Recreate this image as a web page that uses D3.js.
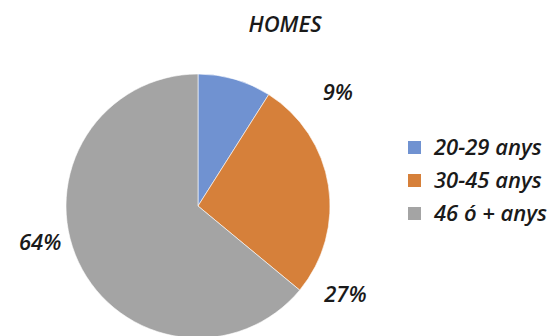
<!DOCTYPE html>
<html>
<head>
<meta charset="utf-8">
<script src="https://cdn.jsdelivr.net/npm/d3@7"></script>
<style>
  html, body { margin: 0; padding: 0; background: #fff; }
  svg text { font-family: "Open Sans", Lato, sans-serif; font-style: italic; fill: #1a1a1a; }
</style>
</head>
<body>
<svg id="chart" width="560" height="336"></svg>
<script>
// Data
const title = "HOMES";
const categories = ["20-29 anys", "30-45 anys", "46 ó + anys"];
const values = [9, 27, 64];
const colors = ["#7092d1", "#d6803a", "#a4a4a4"];

// Layout
const W = 560, H = 336;
const cx = 198, cy = 206, radius = 132;
const fontSize = 22;
// Outside label anchors (angle in degrees clockwise from 12 o'clock, distance from centre)
const labelPlacement = [
  { angle: 51, dist: 180 },
  { angle: 121, dist: 172 },
  { angle: 257, dist: 162 }
];

const svg = d3.select("#chart");

const data = categories.map((c, i) => ({ category: c, value: values[i] }));

const pie = d3.pie().value(d => d.value).sort(null).startAngle(0).endAngle(2 * Math.PI);
const arc = d3.arc().innerRadius(0).outerRadius(radius);
const color = d3.scaleOrdinal().domain(categories).range(colors);

const g = svg.append("g").attr("transform", `translate(${cx},${cy})`);
const arcs = pie(data);

g.selectAll("path")
  .data(arcs)
  .join("path")
  .attr("d", arc)
  .attr("fill", d => color(d.data.category))
  .attr("stroke", "#fff")
  .attr("stroke-width", 0.6);

// Percentage labels
const total = d3.sum(values);
g.selectAll("text.pct")
  .data(arcs)
  .join("text")
  .attr("class", "pct")
  .attr("x", (d, i) => labelPlacement[i].dist * Math.sin(labelPlacement[i].angle * Math.PI / 180))
  .attr("y", (d, i) => -labelPlacement[i].dist * Math.cos(labelPlacement[i].angle * Math.PI / 180))
  .attr("text-anchor", "middle")
  .attr("dy", "0.35em")
  .attr("font-size", fontSize)
  .attr("font-weight", 600)
  .text(d => d3.format(".0%")(d.data.value / total));

// Title
svg.append("text")
  .attr("x", 285)
  .attr("y", 32)
  .attr("text-anchor", "middle")
  .attr("font-size", fontSize)
  .attr("font-weight", 600)
  .text(title);

// Legend
const legend = svg.append("g").attr("transform", "translate(408,147)");
const rowH = 33;
const item = legend.selectAll("g")
  .data(categories)
  .join("g")
  .attr("transform", (d, i) => `translate(0,${i * rowH})`);
item.append("rect")
  .attr("x", 0).attr("y", -6)
  .attr("width", 13).attr("height", 13)
  .attr("fill", d => color(d));
item.append("text")
  .attr("x", 26)
  .attr("y", 0)
  .attr("dy", "0.35em")
  .attr("font-size", fontSize)
  .attr("font-weight", 600)
  .text(d => d);
</script>
</body>
</html>
